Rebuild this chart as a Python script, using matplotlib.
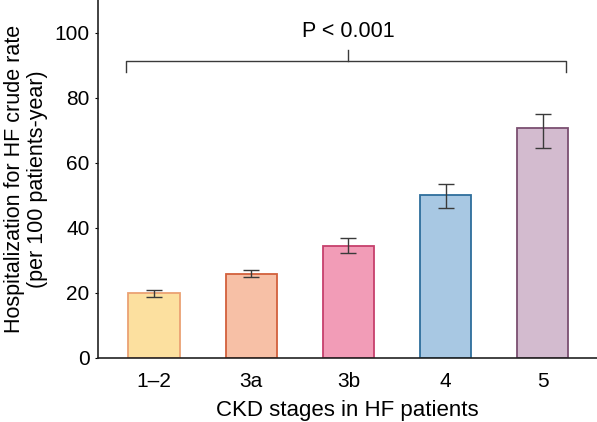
import matplotlib.pyplot as plt
import numpy as np

plt.rcParams['font.family'] = ['Liberation Sans', 'DejaVu Sans']

stages = ['1\u20132', '3a', '3b', '4', '5']
rates = [19.8, 25.9, 34.4, 50.0, 70.7]
err_low = [18.7, 24.8, 32.1, 46.0, 64.5]
err_high = [20.8, 26.9, 36.8, 53.3, 75.0]
fill_colors = ['#FCE09F', '#F7C0A6', '#F29CB7', '#A8C8E3', '#D3BBCF']
edge_colors = ['#EBA173', '#D2603C', '#C6406C', '#2E6E9C', '#7B4F71']

fig = plt.figure(figsize=(5.97, 4.22), dpi=100)
ax = fig.add_axes([0.164, 0.152, 0.836, 0.848])

x = np.arange(len(stages))
rates = np.array(rates)
yerr = [rates - np.array(err_low), np.array(err_high) - rates]

ax.bar(x, rates, width=0.53, color=fill_colors, edgecolor=edge_colors,
       linewidth=1.3, zorder=2)
ax.errorbar(x, rates, yerr=yerr, fmt='none', ecolor='#3a3a3a',
            elinewidth=1.0, capsize=6, capthick=1.0, zorder=3)

# significance bracket
ax.plot([-0.29, -0.29, 4.24, 4.24], [88.0, 91.2, 91.2, 88.0],
        color='#3a3a3a', lw=1.0, clip_on=False)
ax.plot([2.0, 2.0], [91.2, 94.5], color='#3a3a3a', lw=1.0)
ax.text(2.0, 100.3, 'P < 0.001', ha='center', va='center', fontsize=15.5)

ax.set_xlim(-0.58, 4.56)
ax.set_ylim(0, 110)
ax.set_yticks([0, 20, 40, 60, 80, 100])
ax.set_xticks(x)
ax.set_xticklabels(stages)
ax.tick_params(axis='both', labelsize=15, length=0, pad=10)
ax.tick_params(axis='y', length=2, pad=4)

for side in ['top', 'right']:
    ax.spines[side].set_visible(False)
for side in ['left', 'bottom']:
    ax.spines[side].set_linewidth(1.2)
    ax.spines[side].set_color('#222222')

ax.set_xlabel('CKD stages in HF patients', fontsize=16, labelpad=7)
ax.set_ylabel('Hospitalization for HF crude rate\n(per 100 patients-year)',
              fontsize=15.5, labelpad=5, linespacing=1.1)

fig.savefig('out.png', dpi=100)
